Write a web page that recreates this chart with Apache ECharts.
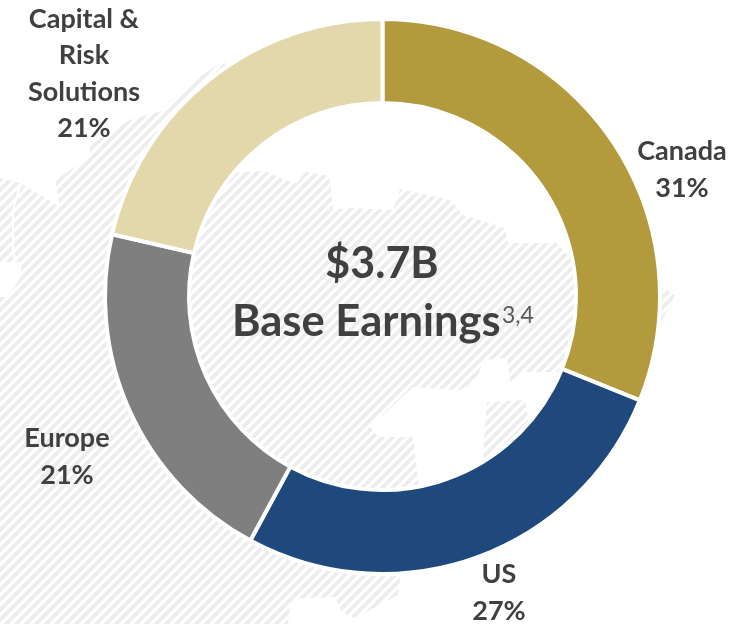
<!DOCTYPE html>
<html>
<head>
<meta charset="utf-8">
<title>Base Earnings</title>
<script src="https://cdn.jsdelivr.net/npm/echarts@6/dist/echarts.min.js"></script>
<style>
  html, body { margin: 0; padding: 0; background: #fff; }
  #chart { width: 751px; height: 624px; }
</style>
</head>
<body>
<div id="chart"></div>
<script>
const categories = ["Canada", "US", "Europe", "Capital &\nRisk\nSolutions"];
const shares = [31.1, 26.8, 20.7, 21.4];
const colors = ["#B39A3C", "#1F497D", "#7F7F7F", "#E2D8AC"];

const headline = "$3.7B";
const subline = "Base Earnings";
const footnote = "3,4";

// label centres, same order as categories
const labelAnchors = [[682, 170], [499, 593], [67, 457], [84, 74]];

// hatched map behind the ring, rough trace
const landOutline = [
  [0, 178], [20, 183], [60, 207], [55, 180], [90, 157], [90, 145], [130, 120], [165, 110],
  [172, 100], [195, 80], [225, 60], [230, 173], [265, 171], [285, 180], [297, 183], [305, 172],
  [325, 175], [330, 180], [333, 210], [350, 208], [393, 210], [400, 189], [450, 200], [463, 215],
  [505, 228], [508, 243], [557, 243], [572, 260], [660, 287], [675, 295], [660, 325], [620, 345],
  [560, 400], [480, 470], [400, 510], [400, 578], [398, 595], [355, 618], [342, 612], [335, 597],
  [300, 598], [290, 605], [288, 624], [0, 624]
];
const landGaps = [
  [[370, 427], [413, 387], [460, 390], [477, 380], [483, 360], [507, 358], [510, 382], [525, 372],
   [565, 372], [560, 400], [530, 430], [525, 400], [487, 402], [483, 453], [487, 475], [420, 495],
   [413, 437], [378, 437]],
  [[0, 262], [20, 262], [22, 275], [8, 297], [0, 297]]
];

function hatchTile() {
  const c = document.createElement("canvas");
  c.width = 10;
  c.height = 10;
  const ctx = c.getContext("2d");
  ctx.strokeStyle = "#EDEDED";
  ctx.lineWidth = 3.8;
  [[-10, 10, 10, -10], [0, 10, 10, 0], [0, 20, 20, 0]].forEach(function (l) {
    ctx.beginPath();
    ctx.moveTo(l[0], l[1]);
    ctx.lineTo(l[2], l[3]);
    ctx.stroke();
  });
  return c;
}

const font = "Lato, Carlito, sans-serif";
const chart = echarts.init(document.getElementById("chart"), null, { renderer: "canvas" });

chart.setOption({
  animation: false,
  backgroundColor: "#fff",
  graphic: [
    {
      type: "polygon", z: 0, silent: true,
      shape: { points: landOutline },
      style: { fill: { image: hatchTile(), repeat: "repeat" } }
    },
    ...landGaps.map((g) => ({
      type: "polygon", z: 1, silent: true,
      shape: { points: g },
      style: { fill: "#fff" }
    })),
    {
      type: "polyline", z: 1, silent: true,
      shape: { points: [[20, 186], [13, 210], [13, 250], [17, 270]] },
      style: { stroke: "#fff", lineWidth: 2, fill: "none" }
    },
    {
      type: "text", z: 10, silent: true, x: 382, y: 264,
      style: { text: headline, fill: "#404040", font: "bold 43px " + font, align: "center", verticalAlign: "middle" }
    },
    {
      type: "text", z: 10, silent: true, x: 232, y: 322,
      style: { text: subline, fill: "#404040", font: "bold 43.5px " + font, align: "left", verticalAlign: "middle" }
    },
    {
      type: "text", z: 10, silent: true, x: 502, y: 316,
      style: { text: footnote, fill: "#595959", font: "23px " + font, align: "left", verticalAlign: "middle" }
    }
  ],
  series: [
    {
      type: "pie",
      center: [382.5, 296.5],
      radius: [193.5, 277.5],
      startAngle: 90,
      clockwise: true,
      silent: true,
      avoidLabelOverlap: false,
      itemStyle: { borderColor: "#fff", borderWidth: 4 },
      label: {
        show: true,
        position: "outside",
        formatter: (p) => p.name + "\n" + Math.round(p.value) + "%",
        color: "#404040",
        fontFamily: font,
        fontWeight: "bold",
        fontSize: 27,
        lineHeight: 36.5,
        align: "center"
      },
      labelLine: { show: false },
      labelLayout: (p) => ({
        x: labelAnchors[p.dataIndex][0],
        y: labelAnchors[p.dataIndex][1],
        align: "center",
        verticalAlign: "middle"
      }),
      data: categories.map((name, i) => ({
        name: name,
        value: shares[i],
        itemStyle: { color: colors[i] }
      }))
    }
  ]
});
</script>
</body>
</html>
